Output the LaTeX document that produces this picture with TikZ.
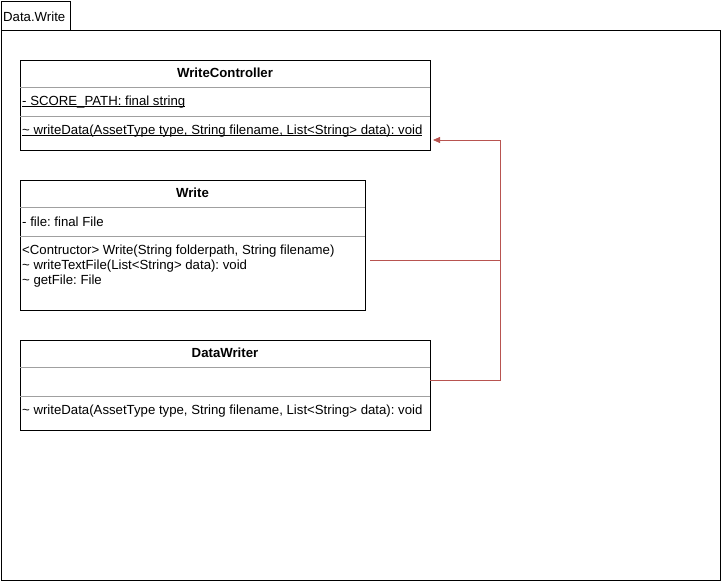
\documentclass[tikz,border=0pt]{standalone}
\usepackage{fontspec}
\setmainfont{Liberation Sans}
\usepackage{xcolor}
\usetikzlibrary{positioning,calc,arrows.meta}

\definecolor{linkred}{HTML}{B85450}
\definecolor{sepgray}{HTML}{A0A0A0}
\frenchspacing
\newcommand\staticline[1]{\setbox0\hbox{#1}\leavevmode\rlap{\rule[-1.6pt]{\wd0}{0.7pt}}\box0}

\begin{document}
\begin{tikzpicture}[x=1pt,y=-1pt]
\tikzset{
	frame box/.style = {draw, line width=0.8pt, anchor=north west, inner sep=0, outer sep=0},
	class box/.style = {draw, line width=0.8pt, anchor=north west, inner sep=0, outer sep=0},
	title text/.style = {font=\fontsize{13.2}{15}\selectfont\bfseries, inner sep=0},
	member text/.style = {font=\fontsize{13.2}{15}\selectfont, anchor=west, align=left, inner sep=0},
	sep line/.style = {draw=sepgray, line width=0.6pt},
	link/.style = {draw=linkred, line width=0.8pt}
}
\useasboundingbox (0,0) rectangle (721,581);

% package frame
\node[frame box, minimum width=69, minimum height=29] (tab) at (1,1) {};
\node[member text] (tab label) at (3,17) {Data.Write};
\node[frame box, minimum width=719, minimum height=550] (pkg) at (1,30) {};

% WriteController
\node[class box, minimum width=410, minimum height=90] (controller) at (20,60) {};
\node[title text] (controller title) at (225,73) {WriteController};
\draw[sep line] ([yshift=-27]controller.north west) -- ([yshift=-27]controller.north east);
\node[member text] (controller attr) at (22,102) {\staticline{- SCORE\_PATH: final string}};
\draw[sep line] ([yshift=-56]controller.north west) -- ([yshift=-56]controller.north east);
\node[member text] (controller ops) at (22,131) {\staticline{\textasciitilde{} writeData(AssetType type, String filename, List<String> data): void}};

% Write
\node[class box, minimum width=345, minimum height=130] (write) at (20,180) {};
\node[title text] (write title) at (192.5,193) {Write};
\draw[sep line] ([yshift=-27]write.north west) -- ([yshift=-27]write.north east);
\node[member text] (write attr) at (22,222) {- file: final File};
\draw[sep line] ([yshift=-56]write.north west) -- ([yshift=-56]write.north east);
\node[member text, anchor=north west] (write ops) at (22,245) {<Contructor> Write(String folderpath, String filename)\\
\textasciitilde{} writeTextFile(List<String> data): void\\
\textasciitilde{} getFile: File};

% DataWriter
\node[class box, minimum width=410, minimum height=90] (datawriter) at (20,340) {};
\node[title text] (datawriter title) at (225,353) {DataWriter};
\draw[sep line] ([yshift=-27]datawriter.north west) -- ([yshift=-27]datawriter.north east);
\draw[sep line] ([yshift=-56]datawriter.north west) -- ([yshift=-56]datawriter.north east);
\node[member text] (datawriter ops) at (22,411) {\textasciitilde{} writeData(AssetType type, String filename, List<String> data): void};

% links
\coordinate (bend top) at (500,140);
\coordinate (bend mid) at (500,260);
\coordinate (bend low) at (500,380);
\draw[link] ([xshift=5,yshift=-15]write.east) -- (bend mid);
\draw[link] ([yshift=5]datawriter.east) -- (bend low) -- (bend top);
\draw[link, -{Triangle[length=7pt,width=6pt]}] (bend top) -- ([xshift=3,yshift=-35]controller.east);
\end{tikzpicture}
\end{document}
